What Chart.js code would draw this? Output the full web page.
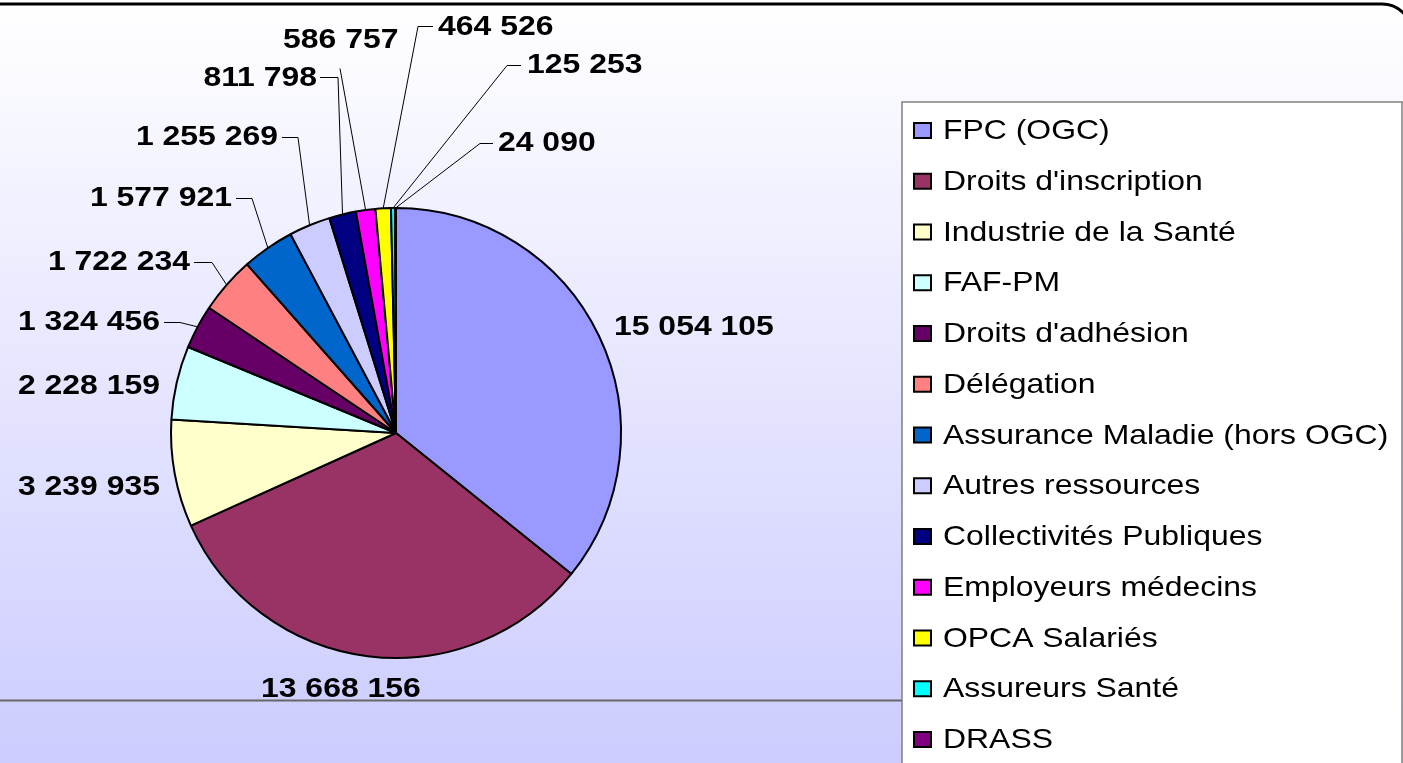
<!DOCTYPE html>
<html>
<head>
<meta charset="utf-8">
<script src="https://cdn.jsdelivr.net/npm/chart.js@4.4.1/dist/chart.umd.min.js"></script>
<style>
  html, body { margin: 0; padding: 0; background: #fff; }
  canvas { display: block; }
</style>
</head>
<body>
<canvas id="myChart" width="1403" height="763"></canvas>
<script>
// data
const categories = ["FPC (OGC)", "Droits d'inscription", "Industrie de la Santé", "FAF-PM",
  "Droits d'adhésion", "Délégation", "Assurance Maladie (hors OGC)", "Autres ressources",
  "Collectivités Publiques", "Employeurs médecins", "OPCA Salariés", "Assureurs Santé", "DRASS"];
const values = [15054105, 13668156, 3239935, 2228159, 1324456, 1722234, 1577921,
  1255269, 811798, 586757, 464526, 125253, 24090];

var sliceColors = ["#9999ff", "#993366", "#ffffcc", "#ccffff", "#660066", "#ff8080", "#0066cc",
  "#ccccff", "#000080", "#ff00ff", "#ffff00", "#00ffff", "#800080"];

// where each value label sits: [x, y, align, leader start points]
const labelSpots = [
  [614, 327, "left", null],
  [261, 689, "left", null],
  [160, 487, "right", null],
  [160, 386, "right", null],
  [160, 322, "right", [[164, 322], [180, 322]]],
  [190, 262, "right", [[194, 262], [212, 262]]],
  [232, 198, "right", [[236, 198], [252, 198]]],
  [278, 137, "right", [[282, 137], [298, 137]]],
  [317, 78, "right", [[320, 77], [338, 77]]],
  [283, 40, "left", [[340, 68]]],
  [438, 27, "left", [[433, 26], [418, 26]]],
  [527, 65, "left", [[521, 65], [507, 65]]],
  [498, 143, "left", [[493, 143], [480, 143]]]
];

const STRETCH = 1.14;

function fmt(v) {
  return String(v).replace(/\B(?=(\d{3})+(?!\d))/g, " ");
}

function stretchedText(ctx, txt, x, y, align) {
  ctx.save();
  ctx.translate(x, y);
  ctx.scale(STRETCH, 1);
  ctx.textAlign = align;
  ctx.fillText(txt, 0, 0);
  ctx.restore();
}

const backdrop = {
  id: "backdrop",
  beforeDraw(chart) {
    const ctx = chart.ctx;
    const w = chart.width, h = chart.height;
    ctx.save();
    let g = ctx.createLinearGradient(0, 0, 0, h);
    g.addColorStop(0, "#ffffff");
    g.addColorStop(1, "#ccccff");
    ctx.fillStyle = g;
    ctx.fillRect(0, 0, w, h);

    // outer rounded frame (only top edge + right corner visible)
    ctx.beginPath();
    ctx.roundRect(-40, 4, 1452, 900, 30);
    ctx.lineWidth = 3;
    ctx.strokeStyle = "#000";
    ctx.stroke();

    // plot area bottom edge
    ctx.beginPath();
    ctx.moveTo(0, 700.5);
    ctx.lineTo(902, 700.5);
    ctx.lineWidth = 2;
    ctx.strokeStyle = "#666";
    ctx.stroke();

    // legend box
    ctx.fillStyle = "#fff";
    ctx.fillRect(902, 102, 500, 700);
    ctx.lineWidth = 1.5;
    ctx.strokeStyle = "#808080";
    ctx.strokeRect(902, 102, 500, 700);
    ctx.restore();
  },
  afterDatasetsDraw(chart) {
    const ctx = chart.ctx;
    const arcs = chart.getDatasetMeta(0).data;
    ctx.save();
    ctx.font = "bold 28px 'Liberation Sans', Arial, sans-serif";
    ctx.fillStyle = "#000";
    ctx.textBaseline = "middle";
    labelSpots.forEach((spot, i) => {
      const a = arcs[i].getProps(["x", "y", "startAngle", "endAngle", "outerRadius"], true);
      const mid = (a.startAngle + a.endAngle) / 2;
      if (spot[3]) {
        ctx.beginPath();
        ctx.moveTo(spot[3][0][0], spot[3][0][1] + 0.5);
        for (let k = 1; k < spot[3].length; k++) ctx.lineTo(spot[3][k][0], spot[3][k][1] + 0.5);
        ctx.lineTo(a.x + Math.cos(mid) * a.outerRadius, a.y + Math.sin(mid) * a.outerRadius);
        ctx.lineWidth = 1;
        ctx.strokeStyle = "#000";
        ctx.stroke();
      }
      stretchedText(ctx, fmt(values[i]), spot[0], spot[1], spot[2]);
    });
    ctx.restore();
  },
  afterDraw(chart) {
    const ctx = chart.ctx;
    ctx.save();
    ctx.font = "28px 'Liberation Sans', Arial, sans-serif";
    ctx.textBaseline = "alphabetic";
    categories.forEach((name, i) => {
      const base = 139 + i * 50.75;
      ctx.fillStyle = sliceColors[i];
      ctx.fillRect(914, base - 16, 17, 15);
      ctx.lineWidth = 2;
      ctx.strokeStyle = "#000";
      ctx.strokeRect(914, base - 16, 17, 15);
      ctx.fillStyle = "#000";
      stretchedText(ctx, name, 943, base, "left");
    });
    ctx.restore();
  }
};

const ctx = document.getElementById("myChart").getContext("2d");
var myChart = new Chart(ctx, {
  type: "pie",
  data: {
    labels: categories,
    datasets: [{
      data: values,
      backgroundColor: sliceColors,
      borderColor: "#000",
      borderWidth: 2
    }]
  },
  options: {
    responsive: false,
    animation: false,
    layout: { padding: { left: 170, right: 781, top: 207, bottom: 104 } },
    plugins: {
      legend: { display: false },
      tooltip: { enabled: false }
    }
  },
  plugins: [backdrop]
});
</script>
</body>
</html>
